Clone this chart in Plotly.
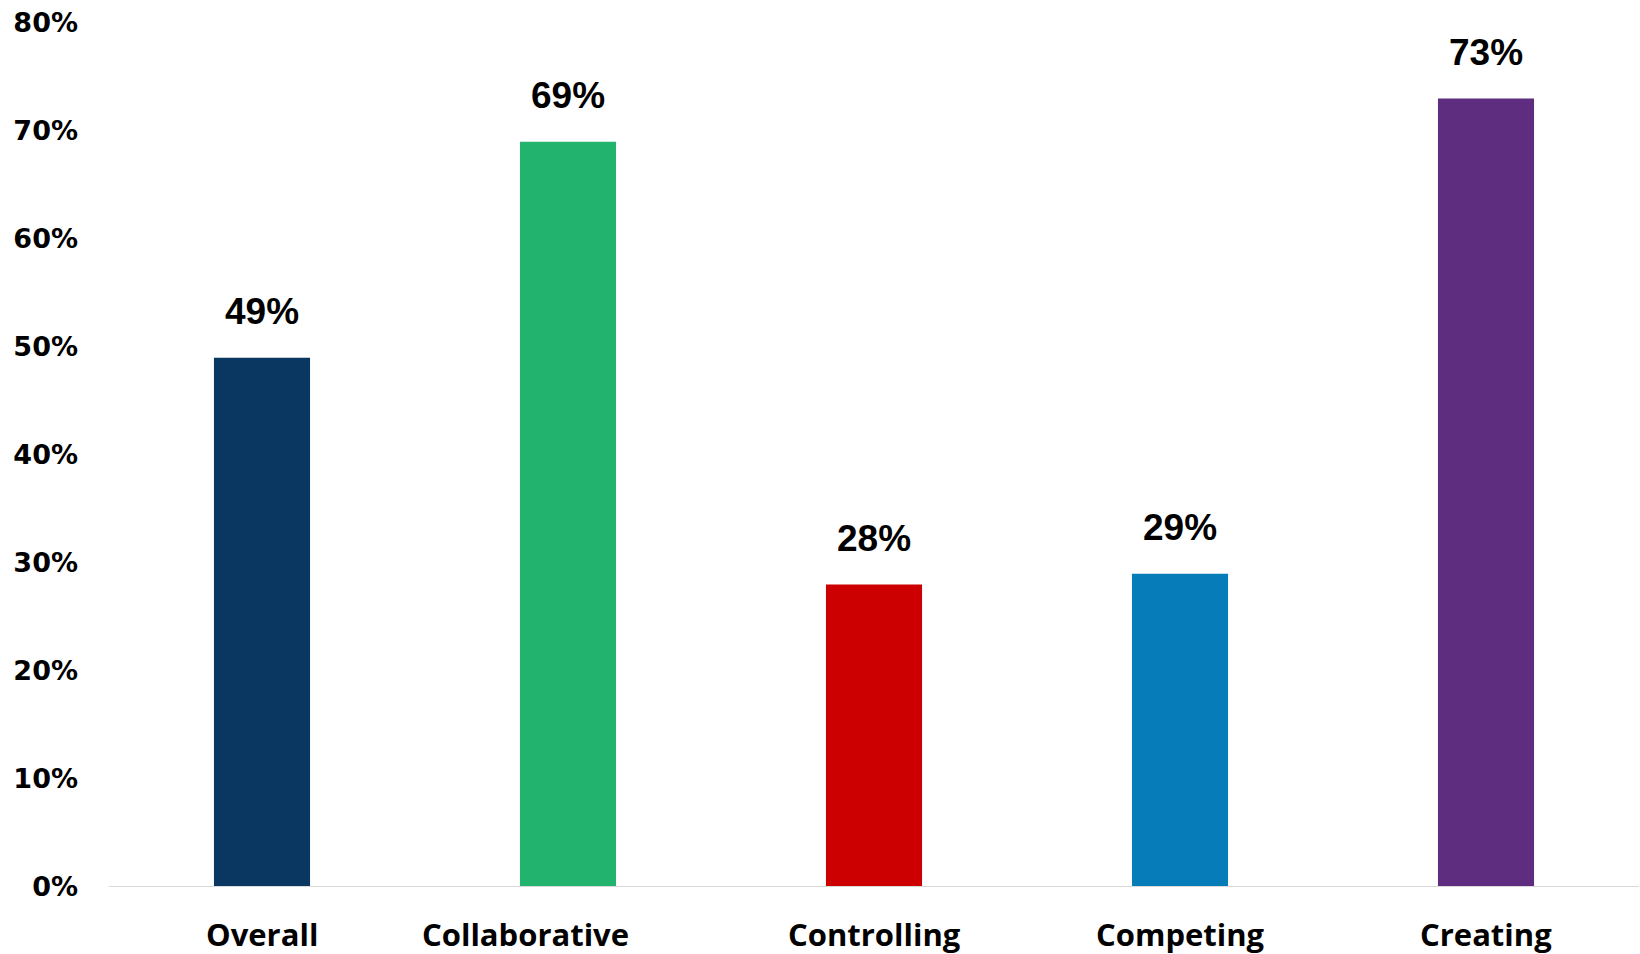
import plotly.graph_objects as go

categories = ["Overall", "Collaborative", "Controlling", "Competing", "Creating"]
values = [0.49, 0.69, 0.28, 0.29, 0.73]
value_labels = ["49%", "69%", "28%", "29%", "73%"]
bar_colors = ["#0A3761", "#22B46E", "#CC0000", "#067DB9", "#5E2D80"]
y_ticks = [0, 0.1, 0.2, 0.3, 0.4, 0.5, 0.6, 0.7, 0.8]
y_tick_labels = ["0%", "10%", "20%", "30%", "40%", "50%", "60%", "70%", "80%"]
# horizontal nudge for category captions (pixels)
caption_shift = [0, -43, 0, 0, 0]

fig = go.Figure(
    go.Bar(
        x=categories,
        y=values,
        marker=dict(color=bar_colors, line=dict(width=0)),
        hoverinfo="skip",
    )
)

# value labels above each bar
for cat, v, lab in zip(categories, values, value_labels):
    fig.add_annotation(
        x=cat, y=v, text=f"<b>{lab}</b>", showarrow=False,
        xref="x", yref="y", yanchor="bottom", yshift=24,
        font=dict(family="Liberation Sans, Arial, sans-serif", size=37, color="#000000"),
    )

# category captions below the axis
for cat, dx in zip(categories, caption_shift):
    fig.add_annotation(
        x=cat, y=0, text=f"<b>{cat}</b>", showarrow=False,
        xref="x", yref="y", yanchor="middle", yshift=-47, xshift=dx,
        font=dict(family="Open Sans, sans-serif", size=31, color="#000000"),
    )

fig.update_layout(
    width=1640,
    height=954,
    margin=dict(l=109, r=1, t=23, b=67),
    paper_bgcolor="#FFFFFF",
    plot_bgcolor="#FFFFFF",
    bargap=0.686,
    showlegend=False,
    xaxis=dict(
        range=[-0.5, 4.5],
        showticklabels=False,
        showgrid=False,
        zeroline=False,
        showline=False,
        ticks="",
    ),
    yaxis=dict(
        range=[0, 0.8],
        tickvals=y_ticks,
        ticktext=[f"<b>{t}</b>" for t in y_tick_labels],
        tickfont=dict(family="DejaVu Sans, sans-serif", size=27, color="#000000"),
        ticklabelstandoff=30,
        showgrid=False,
        zeroline=False,
        showline=False,
        ticks="",
    ),
    shapes=[
        dict(type="line", xref="paper", yref="y", x0=0, x1=1, y0=0, y1=0,
             line=dict(color="#D9D9D9", width=2), layer="above"),
    ],
)

fig.write_html("out.html")
